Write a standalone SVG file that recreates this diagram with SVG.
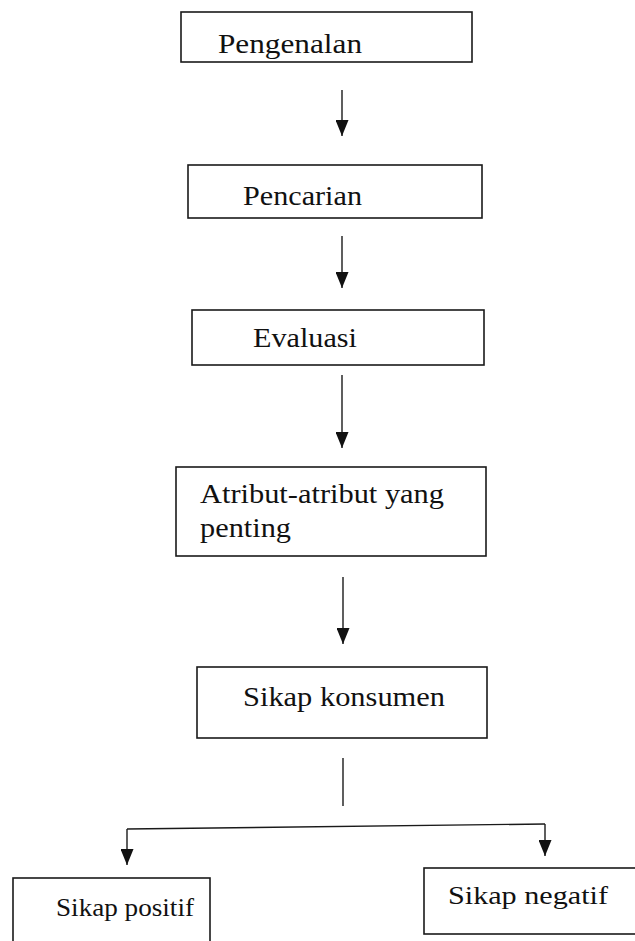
<svg xmlns="http://www.w3.org/2000/svg" width="635" height="941" viewBox="0 0 635 941">
<style>
.box{fill:#fff;stroke:#1a1a1a;stroke-width:1.6}
.t{font-family:"Liberation Serif","DejaVu Serif",serif;font-size:28px;fill:#111}
.tb{font-family:"Liberation Serif","DejaVu Serif",serif;font-size:26px;fill:#111}
.c{fill:none;stroke:#1a1a1a;stroke-width:1.4}
</style>
<defs>
<marker id="ah" viewBox="0 0 16 13" refX="16" refY="6.5" markerWidth="16" markerHeight="13" markerUnits="userSpaceOnUse" orient="auto">
<path d="M0,0 L16,6.5 L0,13 Z" fill="#111"/>
</marker>
</defs>
<rect width="635" height="941" fill="#fff"/>
<g id="connectors">
<line class="c" x1="342" y1="90" x2="342" y2="136" marker-end="url(#ah)"/>
<line class="c" x1="342" y1="236" x2="342" y2="288" marker-end="url(#ah)"/>
<line class="c" x1="342" y1="375" x2="342" y2="448" marker-end="url(#ah)"/>
<line class="c" x1="343" y1="577" x2="343" y2="644" marker-end="url(#ah)"/>
<line class="c" x1="343" y1="758" x2="343" y2="806"/>
<path class="c" d="M127,829 L545,824"/>
<line class="c" x1="127" y1="829" x2="127" y2="865" marker-end="url(#ah)"/>
<line class="c" x1="545" y1="824" x2="545" y2="856" marker-end="url(#ah)"/>
</g>
<g id="n1"><rect class="box" x="181" y="12" width="291" height="50"/><text class="t" x="218" y="53" textLength="144" lengthAdjust="spacingAndGlyphs">Pengenalan</text></g>
<g id="n2"><rect class="box" x="188" y="165" width="294" height="53"/><text class="t" x="243" y="205" textLength="119" lengthAdjust="spacingAndGlyphs">Pencarian</text></g>
<g id="n3"><rect class="box" x="192" y="310" width="292" height="55"/><text class="t" x="253" y="347" textLength="104" lengthAdjust="spacingAndGlyphs">Evaluasi</text></g>
<g id="n4"><rect class="box" x="176" y="467" width="310" height="89"/><text class="t" x="200" y="503" textLength="244" lengthAdjust="spacingAndGlyphs">Atribut-atribut yang</text><text class="t" x="200" y="537" textLength="91" lengthAdjust="spacingAndGlyphs">penting</text></g>
<g id="n5"><rect class="box" x="197" y="667" width="290" height="71"/><text class="t" x="243" y="706" textLength="202" lengthAdjust="spacingAndGlyphs">Sikap konsumen</text></g>
<g id="n6"><rect class="box" x="13" y="878" width="197" height="80"/><text class="tb" x="56" y="916" textLength="138" lengthAdjust="spacingAndGlyphs">Sikap positif</text></g>
<g id="n7"><rect class="box" x="424" y="868" width="212" height="66"/><text class="tb" x="448" y="904" textLength="160" lengthAdjust="spacingAndGlyphs">Sikap negatif</text></g>
</svg>
